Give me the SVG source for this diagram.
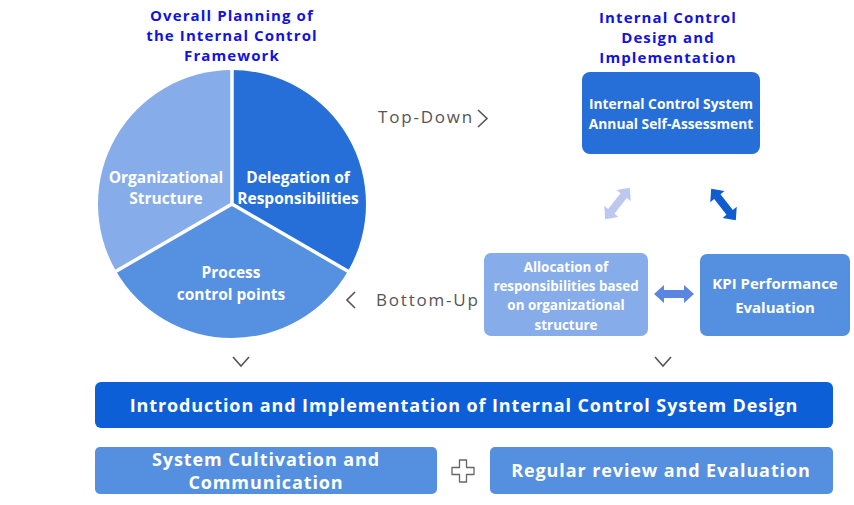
<svg xmlns="http://www.w3.org/2000/svg" width="854" height="505" viewBox="0 0 854 505">
<defs>
<style>
.t{font-family:"Open Sans","Noto Sans","DejaVu Sans",sans-serif;font-weight:bold;fill:#fff;text-anchor:middle}
.h{font-family:"Open Sans","Noto Sans","DejaVu Sans",sans-serif;font-weight:bold;fill:#1212E2;text-anchor:middle;font-size:15px;letter-spacing:1.1px}
.g{font-family:"Open Sans","Noto Sans","DejaVu Sans",sans-serif;fill:#555;font-size:17px;letter-spacing:1.8px}
.b{font-size:18px;letter-spacing:0.9px}
.ch{fill:none;stroke:#555;stroke-width:1.6}
.sep{stroke:#fff;stroke-width:3.5;fill:none}
</style>
</defs>
<rect width="854" height="505" fill="#fff"/>

<g id="title-left">
<text class="h" x="232" y="21">Overall Planning of</text>
<text class="h" x="232" y="41">the Internal Control</text>
<text class="h" x="232" y="61">Framework</text>
</g>
<g id="title-right">
<text class="h" x="668" y="23">Internal Control</text>
<text class="h" x="668" y="43">Design and</text>
<text class="h" x="668" y="63">Implementation</text>
</g>

<g id="pie">
<g id="slice-delegation">
<path d="M232,204 L232,70 A134,134 0 0 1 348.05,271 Z" fill="#266FD9"/>
<text class="t" font-size="15.5" x="298" y="183">Delegation of</text>
<text class="t" font-size="15.5" x="298" y="204">Responsibilities</text>
</g>
<g id="slice-process">
<path d="M232,204 L348.05,271 A134,134 0 0 1 115.95,271 Z" fill="#5590E1"/>
<text class="t" font-size="15.5" x="231" y="278">Process</text>
<text class="t" font-size="15.5" x="231" y="300">control points</text>
</g>
<g id="slice-org">
<path d="M232,204 L115.95,271 A134,134 0 0 1 232,70 Z" fill="#86ADEA"/>
<text class="t" font-size="15.5" x="166" y="183">Organizational</text>
<text class="t" font-size="15.5" x="166" y="204">Structure</text>
</g>
<path class="sep" d="M232,204 L232,66 M232,204 L351,273 M232,204 L113,273"/>
</g>

<g id="self-assessment">
<rect x="582" y="72" width="178" height="82" rx="8" fill="#266FD9"/>
<text class="t" font-size="13.8" x="671" y="109">Internal Control System</text>
<text class="t" font-size="13.8" x="671" y="129">Annual Self-Assessment</text>
</g>
<g id="allocation">
<rect x="484" y="253" width="164" height="83" rx="7" fill="#86ADEA"/>
<text class="t" font-size="13.4" x="566" y="272">Allocation of</text>
<text class="t" font-size="13.4" x="566" y="291">responsibilities based</text>
<text class="t" font-size="13.4" x="566" y="310">on organizational</text>
<text class="t" font-size="13.4" x="566" y="330">structure</text>
</g>
<g id="kpi">
<rect x="700" y="254" width="150" height="82" rx="7" fill="#558FE0"/>
<text class="t" font-size="15" x="775" y="289">KPI Performance</text>
<text class="t" font-size="15" x="775" y="313">Evaluation</text>
</g>
<g id="intro">
<rect x="95" y="382" width="738" height="46" rx="6" fill="#0D5FD8"/>
<text class="t b" x="464" y="412">Introduction and Implementation of Internal Control System Design</text>
</g>
<g id="cultivation">
<rect x="95" y="447" width="342" height="47" rx="5" fill="#5590E0"/>
<text class="t b" x="266" y="466">System Cultivation and</text>
<text class="t b" x="266" y="489">Communication</text>
</g>
<g id="review">
<rect x="490" y="447" width="343" height="47" rx="5" fill="#5590E0"/>
<text class="t b" x="661" y="477">Regular review and Evaluation</text>
</g>

<g id="connectors">
<g id="top-down">
<text class="g" x="378" y="123">Top-Down</text>
<path class="ch" d="M478,110 L487,118.5 L478,127"/>
</g>
<g id="bottom-up">
<text class="g" x="376" y="306">Bottom-Up</text>
<path class="ch" d="M355,292 L347,300 L355,308"/>
</g>
<path class="ch" d="M233,357 L241,366 L249,357"/>
<path class="ch" d="M655,357 L663,366 L671,357"/>
<path d="M-20,0 L-10,-9 L-10,-4 L10,-4 L10,-9 L20,0 L10,9 L10,4 L-10,4 L-10,9 Z" fill="#BDC8EE" transform="translate(617.5,203.5) rotate(-52)"/>
<path d="M-20,0 L-10,-9 L-10,-4 L10,-4 L10,-9 L20,0 L10,9 L10,4 L-10,4 L-10,9 Z" fill="#0F5BD0" transform="translate(723.5,204.5) rotate(52)"/>
<path d="M-20,0 L-10,-9 L-10,-4 L10,-4 L10,-9 L20,0 L10,9 L10,4 L-10,4 L-10,9 Z" fill="#5B86E0" transform="translate(674,294)"/>
<path d="M459.5,460 h7 v7.5 h7.5 v7 h-7.5 v7.5 h-7 v-7.5 h-7.5 v-7 h7.5 Z" fill="#fff" stroke="#666" stroke-width="1.3" stroke-linejoin="round"/>
</g>
</svg>
